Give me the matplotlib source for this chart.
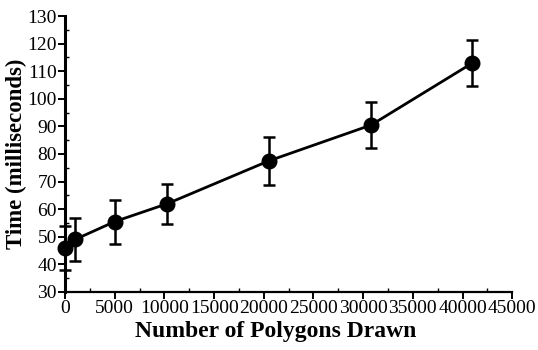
import matplotlib
matplotlib.use("Agg")
from matplotlib import pyplot as plt
from matplotlib.ticker import MultipleLocator

# polygons drawn vs. time
polygons = [0, 1000, 5000, 10300, 20500, 30800, 41000]
time_ms = [46, 49, 55.5, 62, 77.5, 90.5, 113]
err_ms = [8, 7.7, 8, 7.2, 8.6, 8.5, 8.3]

plt.rcParams['font.family'] = ['Liberation Serif', 'DejaVu Serif']

fig = plt.figure(figsize=(5.38, 3.5), dpi=100)
ax = fig.add_axes([0.121, 0.166, 0.831, 0.788])

ax.errorbar(polygons, time_ms, yerr=err_ms, color='black', marker='o',
            markersize=10.5, linewidth=2, elinewidth=1.8, capsize=4,
            capthick=1.8, clip_on=False, zorder=3)

ax.set_xlim(0, 45000)
ax.set_ylim(30, 130)
ax.xaxis.set_major_locator(MultipleLocator(5000))
ax.xaxis.set_minor_locator(MultipleLocator(2500))
ax.yaxis.set_major_locator(MultipleLocator(10))
ax.yaxis.set_minor_locator(MultipleLocator(5))

ax.spines['top'].set_visible(False)
ax.spines['right'].set_visible(False)
ax.spines['left'].set_linewidth(2.2)
ax.spines['bottom'].set_linewidth(1.6)

ax.tick_params(which='major', direction='out', length=5, width=1.4,
               labelsize=14, pad=1)
ax.tick_params(which='minor', direction='in', length=3, width=1.0)

ax.set_xlabel("Number of Polygons Drawn", fontsize=17, fontweight='bold', labelpad=0)
ax.set_ylabel("Time (milliseconds)", fontsize=16.5, fontweight='bold', labelpad=0)
ax.xaxis.set_label_coords(0.47, -0.105)

plt.savefig("out.png", dpi=100)
